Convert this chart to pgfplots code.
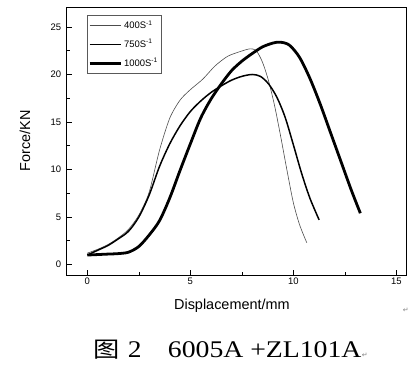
\documentclass[border=0pt]{standalone}
\usepackage{pgfplots}
\pgfplotsset{compat=1.18}
\usepackage{fontspec}
\setmainfont{Liberation Sans}
\newfontfamily\seriffont{Liberation Serif}
\newfontfamily\cjk{Noto Sans CJK SC}
\newfontfamily\symfont{DejaVu Sans}
\begin{document}
\begin{tikzpicture}
\begin{axis}[
  scale only axis,
  width=340bp, height=268bp,
  xmin=-1, xmax=15.5, ymin=-1.1, ymax=27.1,
  xtick={0,5,10,15}, ytick={0,5,10,15,20,25},
  minor xtick={2.5,7.5,12.5}, minor ytick={2.5,7.5,12.5,17.5,22.5},
  tick align=inside, tick pos=left,
  major tick length=5bp, minor tick length=3bp,
  tick style={black, line width=0.6pt},
  axis line style={black, line width=0.7pt},
  /pgf/number format/assume math mode=true,
  ticklabel style={font=\fontsize{9.5}{11}\selectfont},
  yticklabel style={xshift=-2bp},
  xticklabel style={yshift=1bp},
  xlabel={Displacement/mm}, ylabel={Force/KN},
  xlabel style={font=\fontsize{14.5}{16}\selectfont, at={(axis description cs:0.486,-0.115)}, anchor=center},
  ylabel style={font=\fontsize{14.5}{16}\selectfont, at={(axis description cs:-0.123,0.5)}, anchor=center},
  legend style={at={(rel axis cs:0.06,0.969)}, anchor=north west, draw=gray!70!black, line width=0.5pt,
    font=\fontsize{9.5}{11}\selectfont, inner xsep=1bp, inner ysep=3bp, row sep=5bp},
  legend cell align=left,
  legend image code/.code={\draw[#1] (0bp,0bp) -- (31bp,0bp);},
]
\addplot[black!70, line width=0.6pt, smooth, tension=0.45] coordinates {
(0,1.2) (0.5,1.6) (1.0,2.1) (1.5,2.8) (2.0,3.7) (2.5,5.2) (3.0,7.6) (3.5,12.0) (4.0,15.4) (4.5,17.3) (5.0,18.4) (5.6,19.5) (6.2,20.9) (6.8,21.9) (7.4,22.4) (7.9,22.7) (8.2,22.5) (8.5,21.3) (8.8,19.3) (9.1,16.6) (9.4,13.3) (9.7,9.8) (10.0,6.5) (10.3,4.2) (10.65,2.3)
};
\addlegendentry{400S\textsuperscript{-1}}
\addplot[black, line width=1.5pt, smooth, tension=0.5] coordinates {
(0,1.0) (0.5,1.5) (1.0,2.0) (1.5,2.7) (2.0,3.5) (2.5,5.0) (3.0,7.3) (3.5,10.3) (4.0,12.7) (4.5,14.6) (5.0,16.1) (5.5,17.2) (6.0,18.1) (6.5,18.8) (7.0,19.4) (7.5,19.8) (8.0,20.0) (8.4,19.8) (8.8,19.0) (9.2,17.6) (9.6,15.5) (10.0,12.6) (10.4,9.6) (10.8,7.0) (11.25,4.7)
};
\addlegendentry{750S\textsuperscript{-1}}
\addplot[black, line width=2.8pt, smooth, tension=0.5] coordinates {
(0,1.0) (0.5,1.05) (1.0,1.1) (1.5,1.15) (2.0,1.3) (2.5,1.9) (3.0,3.1) (3.5,4.6) (4.0,7.0) (4.5,9.9) (5.0,12.7) (5.5,15.4) (6.0,17.4) (6.5,19.0) (7.0,20.4) (7.5,21.4) (8.0,22.2) (8.5,22.9) (9.0,23.3) (9.35,23.4) (9.8,23.1) (10.3,21.8) (10.8,19.6) (11.3,16.9) (11.8,13.9) (12.3,10.9) (12.8,7.9) (13.25,5.4)
};
\addlegendentry{1000S\textsuperscript{-1}}
\end{axis}
\path (current axis.south west) ++(-66.7bp,-91bp) rectangle ++(416bp,366bp);
\node[anchor=base west, inner sep=0pt, font=\symfont\fontsize{7}{8}\selectfont, text=gray] at ([xshift=336bp,yshift=-37bp]current axis.south west) {↵};
\node[anchor=base west, inner sep=0pt, xscale=1.2, font=\cjk\fontsize{22}{26}\selectfont] at ([xshift=27bp,yshift=-82bp]current axis.south west) {图};
\node[anchor=base west, inner sep=0pt, xscale=1.15, font=\seriffont\fontsize{24}{26}\selectfont] at ([xshift=61bp,yshift=-82bp]current axis.south west) {2};
\node[anchor=base west, inner sep=0pt, xscale=1.16, font=\seriffont\fontsize{24}{26}\selectfont] at ([xshift=101bp,yshift=-82bp]current axis.south west) {6005A +ZL101A};
\node[anchor=base west, inner sep=0pt, font=\symfont\fontsize{7}{8}\selectfont, text=gray] at ([xshift=295bp,yshift=-82bp]current axis.south west) {↵};
\end{tikzpicture}
\end{document}
